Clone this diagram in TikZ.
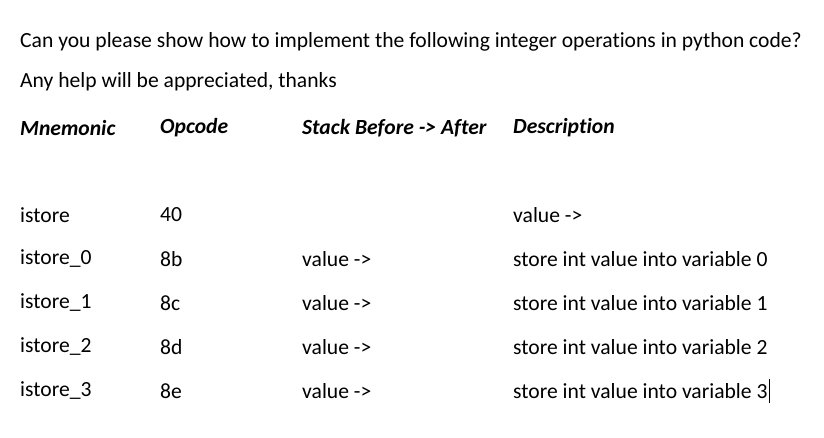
\documentclass[tikz,border=0pt]{standalone}
\usepackage{fontspec}
\setmainfont[Ligatures=NoCommon]{Carlito}
\begin{document}
\begin{tikzpicture}[x=1pt,y=-1pt,
  txt/.style={anchor=west,inner sep=0pt,font=\fontsize{21.6}{26}\selectfont},
  hd/.style={txt,font=\fontsize{21.6}{26}\selectfont\bfseries\itshape}]
\useasboundingbox (0,0) rectangle (824,437);
\node [txt] (q1) at (20,42) {Can you please show how to implement the following integer operations in python code?};
\node [txt] (q2) at (20,82) {Any help will be appreciated, thanks};
\node [hd] (hmn) at (20,128) {Mnemonic};
\node [hd] (hop) at (160,128) {Opcode};
\node [hd] (hst) at (302,128) {Stack Before -> After};
\node [hd] (hds) at (513,128) {Description};
\node [txt] (m0) at (20,215) {istore};
\node [txt] (o0) at (160,215) {40};
\node [txt] (d0) at (513,215) {value ->};
\foreach \n/\op [count=\i] in {0/8b,1/8c,2/8d,3/8e} {
  \node [txt] (m\i) at (20,215+44*\i) {istore\_\n};
  \node [txt] (o\i) at (160,215+44*\i) {\op};
  \node [txt] (s\i) at (302,215+44*\i) {value ->};
  \node [txt] (d\i) at (513,215+44*\i) {store int value into variable \n};
}
\draw [line width=1pt] ([xshift=2pt]d4.east) ++(0,-12) -- ++(0,24);
\end{tikzpicture}
\end{document}
